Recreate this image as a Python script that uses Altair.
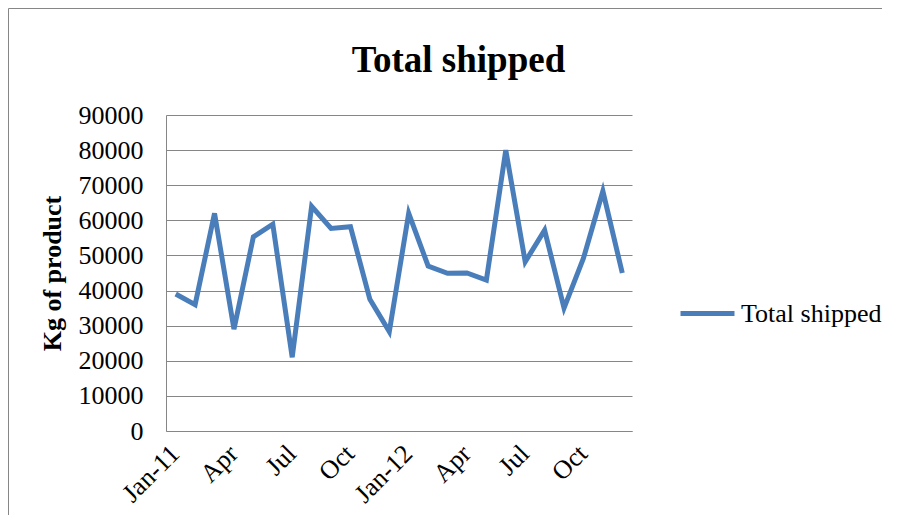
import altair as alt
import pandas as pd

months = ["Jan-11", "Feb-11", "Mar-11", "Apr-11", "May-11", "Jun-11",
          "Jul-11", "Aug-11", "Sep-11", "Oct-11", "Nov-11", "Dec-11",
          "Jan-12", "Feb-12", "Mar-12", "Apr-12", "May-12", "Jun-12",
          "Jul-12", "Aug-12", "Sep-12", "Oct-12", "Nov-12", "Dec-12"]
shipped = [39000, 36000, 62000, 29000, 55300, 58900,
           21000, 64000, 57700, 58200, 37500, 28300,
           62000, 47000, 44900, 45000, 43000, 80000,
           48200, 57200, 35000, 49200, 68300, 45000]
tick_months = ["Jan-11", "Apr-11", "Jul-11", "Oct-11", "Jan-12", "Apr-12", "Jul-12", "Oct-12"]
tick_labels = ["Jan-11", "Apr", "Jul", "Oct", "Jan-12", "Apr", "Jul", "Oct"]
y_ticks = [0, 10000, 20000, 30000, 40000, 50000, 60000, 70000, 80000, 90000]
series_name = "Total shipped"
chart_title = "Total shipped"

df = pd.DataFrame({"month": months, "kg": shipped, "series": [series_name] * len(months)})
title_df = pd.DataFrame({"title": [chart_title]})

FONT = "Liberation Serif"
GREY = "#868686"
BLUE = "#4A7EBB"

label_expr = "{}[indexof({}, datum.value)]".format(
    "[" + ",".join("'%s'" % t for t in tick_labels) + "]",
    "[" + ",".join("'%s'" % t for t in tick_months) + "]",
)

line = alt.Chart(df).mark_line(strokeWidth=5, strokeJoin="miter").encode(
    x=alt.X("month:O", sort=months,
            scale=alt.Scale(type="point", padding=0.5),
            axis=alt.Axis(values=tick_months, labelExpr=label_expr, labelAngle=-45,
                          labelAlign="right", labelBaseline="top", labelPadding=9,
                          labelOffset=-10,
                          ticks=False, tickSize=0, grid=False, title=None,
                          domainColor=GREY, domainWidth=1,
                          labelFont=FONT, labelFontSize=26, labelColor="black",
                          labelOverlap=False)),
    y=alt.Y("kg:Q", scale=alt.Scale(domain=[0, 90000], nice=False),
            axis=alt.Axis(values=y_ticks, format="d", grid=True, gridColor=GREY, gridWidth=1,
                          ticks=False, tickSize=0, labelPadding=23,
                          domainColor=GREY, domainWidth=1,
                          labelFont=FONT, labelFontSize=26, labelColor="black",
                          title="Kg of product", titleFont=FONT, titleFontSize=26,
                          titleFontWeight="bold", titleColor="black",
                          titleAngle=-90, titleX=-106, titleY=158,
                          titleBaseline="alphabetic", titleAlign="center")),
    color=alt.Color("series:N", scale=alt.Scale(range=[BLUE]),
                    legend=alt.Legend(title=None, orient="none", legendX=512, legendY=169,
                                      symbolType="stroke", symbolStrokeWidth=5, symbolSize=2916,
                                      labelFont=FONT, labelFontSize=26, labelColor="black",
                                      labelOffset=4, labelLimit=0)),
)

title_text = alt.Chart(title_df).mark_text(
    font=FONT, fontSize=37, fontWeight="bold", color="black",
    align="center", baseline="alphabetic",
).encode(text="title:N", x=alt.value(292.5), y=alt.value(-43))

border_top = alt.Chart(title_df).mark_rule(color=GREY, strokeWidth=1).encode(
    x=alt.value(-157.5), x2=alt.value(740), y=alt.value(-106.5))
border_left = alt.Chart(title_df).mark_rule(color=GREY, strokeWidth=1).encode(
    x=alt.value(-157.5), y=alt.value(-106.5), y2=alt.value(420))

chart = alt.layer(border_top, border_left, title_text, line).properties(
    width=466, height=316,
    autosize=alt.AutoSizeParams(type="none"),
    padding={"left": 158, "top": 107, "right": 250, "bottom": 84},
).configure_view(stroke="transparent", strokeWidth=0)

chart.save("out.html", embed_options={"renderer": "svg", "actions": False})
